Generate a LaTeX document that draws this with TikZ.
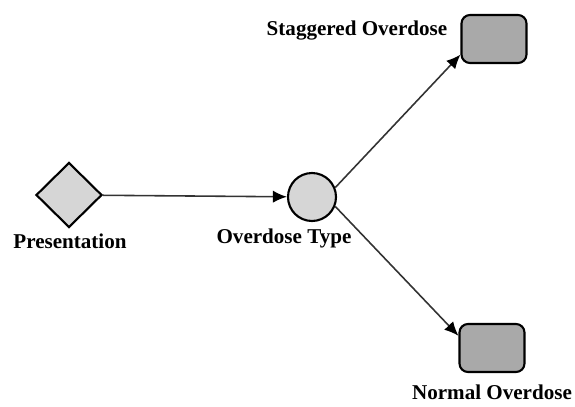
\documentclass[tikz,border=0pt]{standalone}
\usepackage{fontspec}
\setmainfont{Liberation Serif}
\usetikzlibrary{arrows.meta,shapes.geometric}

\definecolor{edgegray}{HTML}{333333}
\definecolor{lightfill}{HTML}{D6D6D6}
\definecolor{darkfill}{HTML}{A9A9A9}

\tikzset{
    decision/.style={diamond,draw,line width=1.2pt,fill=lightfill,inner sep=0pt,minimum width=1.32cm,minimum height=1.3cm},
    chance/.style={circle,draw,line width=1.2pt,fill=lightfill,inner sep=0pt,minimum size=0.96cm},
    outcome/.style={rectangle,rounded corners=0.17cm,draw,line width=1.2pt,fill=darkfill,inner sep=0pt,minimum width=1.3cm,minimum height=0.96cm},
    lbl/.style={font=\bfseries\fontsize{12}{14}\selectfont},
    link/.style={-{Latex[length=8pt,width=7pt,color=black]},edgegray,line width=0.9pt}
}

\begin{document}
\begin{tikzpicture}[x=0.02cm,y=-0.02cm]
    \useasboundingbox (0,0) rectangle (575,406);

    % nodes
    \node[decision] (pres) at (69,195) {};
    \node[lbl] (preslbl) at (70,241) {Presentation};
    \node[chance] (type) at (312,197) {};
    \node[lbl] (typelbl) at (284,238) {Overdose Type};
    \node[outcome] (stag) at (494,39) {};
    \node[lbl] (staglbl) at (357,31) {Staggered Overdose};
    \node[outcome] (norm) at (492,348) {};
    \node[lbl] (normlbl) at (492,392) {Normal Overdose};

    % edges
    \draw[link] (pres) -- (type); % Presentation -> Overdose Type
    \draw[link] (type.22) -- (stag.205); % Overdose Type -> Staggered
    \draw[link] (type.-22) -- (norm.160); % Overdose Type -> Normal

\end{tikzpicture}
\end{document}
